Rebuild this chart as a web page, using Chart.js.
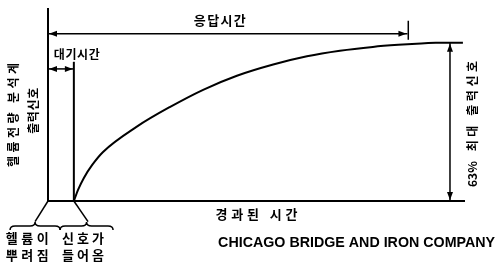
<!DOCTYPE html>
<html>
<head>
<meta charset="utf-8">
<script src="https://cdn.jsdelivr.net/npm/chart.js@4.4.1/dist/chart.umd.min.js"></script>
<style>
  html, body { margin: 0; padding: 0; background: #fff; }
  #wrap { width: 497px; height: 264px; }
</style>
</head>
<body>
<div id="wrap"><canvas id="chart"></canvas></div>
<script>
// response curve (time units, % of plateau)
const curveX = [6.2, 7.2, 8.6, 10.6, 13.2, 21.3, 29.3, 37.2, 45.3, 54.0, 62.1, 70.0, 77.9, 84.0, 89.5, 93.0, 99.5];
const curveY = [0, 7.0, 14.6, 22.8, 31.0, 47.0, 59.5, 70.3, 79.2, 86.3, 91.5, 95.0, 97.4, 98.7, 99.6, 100, 100];

// key times / levels
const injectT = 0;
const signalT = 6.2;
const responseT = 86.2;
const maxLevel = 100;
const xMax = 100;
const yMax = 122;

// texts
const txtResponse = '응답시간';
const txtWait = '대기시간';
const txtElapsed = '경과된 시간';
const txtLeft1 = '헬륨전량 분석계';
const txtLeft2 = '출력신호';
const txtRight = '63% 최대 출력신호';
const txtInject = ['헬륨이', '뿌려짐'];
const txtSignal = ['신호가', '들어옴'];
const txtCompany = 'CHICAGO BRIDGE AND IRON COMPANY';

const curve = curveX.map((x, i) => ({ x: x, y: curveY[i] }));

function seg(points, width) {
    return {
        data: points,
        borderColor: '#000',
        borderWidth: width,
        pointRadius: 0,
        fill: false,
        clip: false
    };
}

const KR = '"Noto Sans CJK KR"';

// draw text centred at (cx, cy), stretching the gaps between characters to fill span
// (runs of latin letters / digits stay together)
function spaced(ctx, text, cx, cy, span) {
    const parts = text.match(/[0-9A-Za-z%]+|./gu);
    const widths = parts.map(c => ctx.measureText(c).width);
    const total = widths.reduce((a, b) => a + b, 0);
    const gap = parts.length > 1 ? (span - total) / (parts.length - 1) : 0;
    let x = cx - span / 2;
    ctx.save();
    ctx.textAlign = 'left';
    parts.forEach((c, i) => {
        ctx.fillText(c, x, cy);
        x += widths[i] + gap;
    });
    ctx.restore();
}

function arrowHead(ctx, x, y, dir) {
    const len = 8, half = 3;
    ctx.save();
    ctx.translate(x, y);
    ctx.rotate(dir);
    ctx.beginPath();
    ctx.moveTo(0, 0);
    ctx.lineTo(-len, -half);
    ctx.lineTo(-len, half);
    ctx.closePath();
    ctx.fill();
    ctx.restore();
}

function brace(ctx, x1, x2, y, h) {
    const xm = (x1 + x2) / 2;
    ctx.beginPath();
    ctx.moveTo(x1, y + h);
    ctx.quadraticCurveTo(x1, y, x1 + 5, y);
    ctx.lineTo(xm - 5, y);
    ctx.quadraticCurveTo(xm, y, xm, y - h);
    ctx.quadraticCurveTo(xm, y, xm + 5, y);
    ctx.lineTo(x2 - 5, y);
    ctx.quadraticCurveTo(x2, y, x2, y + h);
    ctx.stroke();
}

const annotations = {
    id: 'annotations',
    afterDatasetsDraw(chart) {
        const ctx = chart.ctx;
        const sx = chart.scales.x, sy = chart.scales.y;
        const px = v => sx.getPixelForValue(v);
        const py = v => sy.getPixelForValue(v);
        ctx.save();
        ctx.fillStyle = '#000';
        ctx.strokeStyle = '#000';

        // arrow heads
        arrowHead(ctx, px(injectT) + 1, py(105.7), Math.PI);
        arrowHead(ctx, px(responseT) - 1, py(105.7), 0);
        arrowHead(ctx, px(injectT) + 1, py(83.5), Math.PI);
        arrowHead(ctx, px(signalT) - 1, py(83.5), 0);
        arrowHead(ctx, px(96.4), py(maxLevel) + 1, -Math.PI / 2);
        arrowHead(ctx, px(96.4), py(0) - 1, Math.PI / 2);

        // braces under the time axis
        ctx.lineWidth = 1.5;
        brace(ctx, px(-9.1), px(2.9), py(-15.8), 4);
        brace(ctx, px(2.9), px(15.6), py(-15.8), 4);

        ctx.textBaseline = 'middle';
        ctx.font = 'bold 13px ' + KR;
        spaced(ctx, txtResponse, px(41.2), py(114.3), 52);
        ctx.font = 'bold 12px ' + KR;
        spaced(ctx, txtWait, px(6.9), py(92.4), 46);
        ctx.font = 'bold 13px ' + KR;
        spaced(ctx, txtElapsed, px(50.0), py(-8.2), 82);

        ctx.font = 'bold 13px ' + KR;
        spaced(ctx, txtInject[0], px(-5.0), py(-23.4), 43);
        spaced(ctx, txtInject[1], px(-5.0), py(-34.2), 43);
        spaced(ctx, txtSignal[0], px(8.4), py(-23.4), 42);
        spaced(ctx, txtSignal[1], px(8.4), py(-34.2), 42);

        // rotated side labels
        ctx.font = 'bold 12px ' + KR;
        ctx.save();
        ctx.translate(px(-8.2), py(54.4));
        ctx.rotate(-Math.PI / 2);
        spaced(ctx, txtLeft1, 0, 0, 104);
        ctx.restore();

        ctx.save();
        ctx.translate(px(-3.6), py(57));
        ctx.rotate(-Math.PI / 2);
        spaced(ctx, txtLeft2, 0, 0, 46);
        ctx.restore();

        ctx.save();
        ctx.translate(px(101.7), py(48.7));
        ctx.rotate(-Math.PI / 2);
        spaced(ctx, txtRight, 0, 0, 126);
        ctx.restore();

        // company name
        ctx.font = 'bold 15px "Liberation Sans"';
        ctx.textAlign = 'center';
        const w = ctx.measureText(txtCompany).width;
        ctx.save();
        ctx.translate(px(74.0), py(-26.6));
        ctx.scale(277 / w, 1);
        ctx.fillText(txtCompany, 0, 0);
        ctx.restore();

        ctx.restore();
    }
};

new Chart(document.getElementById('chart'), {
    type: 'line',
    data: {
        datasets: [
            seg([{ x: injectT, y: 0 }, { x: injectT, y: yMax }], 2),
            seg([{ x: injectT, y: 0 }, { x: xMax, y: 0 }], 2),
            seg([{ x: signalT, y: 0 }, { x: signalT, y: 88 }], 2),
            Object.assign(seg(curve, 2), { cubicInterpolationMode: 'monotone' }),
            seg([{ x: injectT, y: 105.7 }, { x: responseT, y: 105.7 }], 1.5),
            seg([{ x: responseT + 0.2, y: 114 }, { x: responseT + 0.2, y: 102 }], 1.5),
            seg([{ x: injectT, y: 83.5 }, { x: signalT, y: 83.5 }], 1.5),
            seg([{ x: 96.4, y: 0 }, { x: 96.4, y: maxLevel }], 1.5),
            seg([{ x: injectT, y: 0 }, { x: -3.1, y: -13 }], 1.5),
            seg([{ x: signalT, y: 0 }, { x: 9.6, y: -13 }], 1.5)
        ]
    },
    options: {
        responsive: true,
        maintainAspectRatio: false,
        animation: false,
        layout: { padding: { left: 48, right: 32, top: 8, bottom: 63 } },
        scales: {
            x: { type: 'linear', min: 0, max: xMax, display: false },
            y: { type: 'linear', min: 0, max: yMax, display: false }
        },
        plugins: {
            legend: { display: false },
            tooltip: { enabled: false }
        }
    },
    plugins: [annotations]
});
</script>
</body>
</html>
